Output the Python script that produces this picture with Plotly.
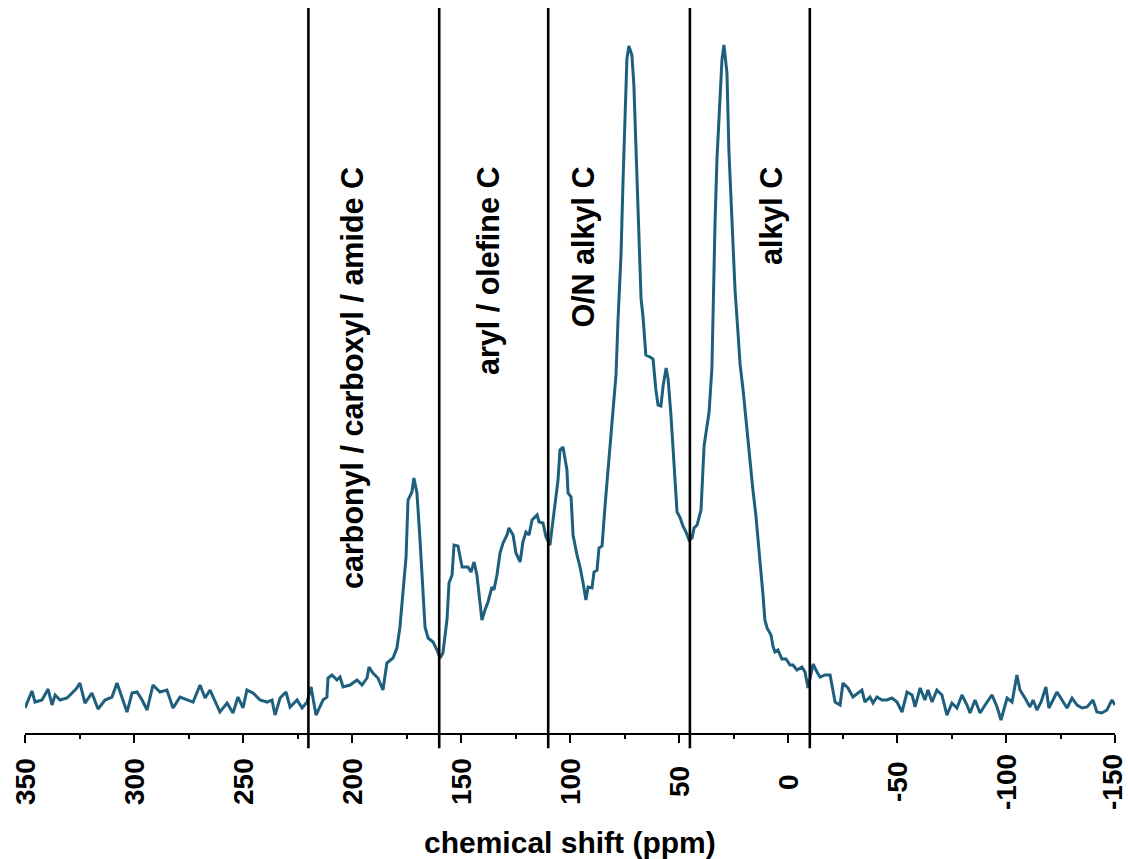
import plotly.graph_objects as go

# chemical shift (ppm) and intensity (a.u., max peak = 100)
ppm = [350.0, 346.8, 345.4, 342.2, 339.4, 337.6, 336.2, 333.9, 330.7, 328.4, 326.6, 324.8, 322.5, 319.3,
       316.5, 313.3, 310.1, 307.8, 305.5, 303.2, 300.9, 298.6, 296.3, 294.0, 291.3, 288.1, 284.9, 282.1,
       278.9, 275.7, 272.9, 269.7, 267.4, 265.1, 262.8, 260.6, 257.3, 254.6, 252.3, 250.0, 248.2, 245.4,
       242.2, 239.0, 236.7, 235.3, 233.0, 230.3, 228.4, 225.2, 222.9, 220.6, 218.8, 216.5, 213.3, 211.5,
       211.0, 209.2, 206.9, 205.5, 204.1, 200.9, 197.7, 195.4, 193.1, 192.2, 190.4, 188.1, 185.8, 184.0,
       181.2, 179.4, 178.0, 176.6, 175.2, 174.3, 172.5, 171.6, 170.2, 168.8, 167.4, 166.5, 165.1, 162.8,
       161.0, 159.6, 158.3, 156.4, 155.5, 154.1, 153.2, 151.4, 149.5, 148.2, 146.8, 145.4, 144.0, 142.7,
       140.4, 139.0, 137.6, 135.8, 134.9, 133.5, 132.1, 130.7, 128.9, 128.0, 126.1, 124.8, 122.9, 121.6,
       120.2, 118.8, 117.4, 115.1, 114.2, 112.4, 111.0, 109.2, 106.9, 105.5, 104.6, 103.2, 101.4, 100.9,
       99.5, 98.6, 96.8, 95.4, 94.0, 92.7, 91.7, 89.9, 89.0, 87.6, 86.7, 85.3, 83.9, 82.6, 81.2, 80.3,
       78.9, 78.0, 76.6, 75.7, 74.8, 73.9, 73.0, 71.6, 70.7, 69.7, 68.8, 67.4, 66.5, 65.2, 63.3, 61.9,
       60.6, 59.6, 58.3, 57.3, 55.9, 55.0, 53.7, 52.3, 50.9, 49.6, 48.2, 46.8, 45.4, 44.0, 43.1, 41.7,
       39.9, 38.5, 37.2, 36.2, 34.9, 34.4, 33.5, 32.6, 31.2, 30.3, 29.4, 28.0, 27.1, 25.7, 24.3, 22.9,
       22.0, 20.6, 19.3, 18.3, 17.4, 16.1, 14.7, 13.8, 12.8, 11.5, 10.6, 9.6, 7.8, 6.9, 6.0, 4.6, 2.8,
       0.9, -0.9, -2.3, -4.1, -6.4, -7.8, -9.2, -11.5, -13.3, -14.7, -17.0, -19.3, -21.6, -23.9, -25.2,
       -27.5, -29.8, -32.1, -33.9, -35.3, -37.6, -39.0, -40.8, -43.1, -45.4, -47.7, -50.0, -52.3, -54.6,
       -56.9, -58.3, -60.6, -62.8, -64.2, -66.1, -68.3, -70.6, -72.9, -75.2, -77.5, -79.8, -82.1, -83.5,
       -85.8, -88.1, -90.4, -93.6, -95.9, -97.7, -100.5, -102.8, -105.0, -106.4, -108.7, -111.0, -112.4,
       -114.2, -116.1, -118.3, -119.7, -121.6, -123.4, -125.7, -128.0, -130.3, -132.6, -134.9, -137.2,
       -139.9, -141.7, -144.0, -146.3, -148.6, -150.0]

intensity = [-0.45, 2.12, 0.45, 0.76, 2.42, 0.0, 1.52, 0.76, 1.06, 1.82, 2.42, 3.33, 0.30, 1.82,
             -0.61, 0.76, 1.21, 3.33, 1.21, -1.06, 1.82, 1.97, 0.76, -0.76, 3.03, 1.97, 2.27, -0.45,
             1.21, 0.76, 0.45, 3.03, 1.06, 2.27, 0.45, -1.06, 0.30, -1.21, 1.21, -0.45, 2.27, 1.82,
             0.76, 0.45, 0.76, -1.52, 1.06, 1.97, -0.30, 0.76, -0.45, 0.45, 2.73, -1.52, 0.76, 1.21,
             4.09, 4.55, 3.79, 4.24, 2.73, 3.03, 3.79, 3.03, 4.09, 5.76, 4.85, 4.09, 2.27, 6.36,
             7.12, 8.64, 11.82, 17.42, 22.42, 31.06, 32.27, 34.39, 32.12, 25.0, 17.42, 11.82, 10.15, 9.55,
             8.33, 7.12, 7.88, 13.0, 18.48, 19.70, 24.24, 24.09, 20.91, 20.91, 20.91, 20.15, 21.67, 19.70,
             12.88, 14.39, 15.61, 17.88, 17.42, 19.70, 23.03, 24.55, 25.76, 26.82, 25.76, 23.03, 21.67, 24.70,
             26.21, 25.76, 28.03, 28.79, 27.73, 27.58, 25.45, 24.24, 30.61, 34.09, 38.64, 39.09, 35.61, 32.12,
             31.52, 25.76, 22.73, 20.91, 18.48, 15.91, 17.88, 17.73, 20.15, 20.45, 23.79, 24.09, 30.30, 35.61,
             41.67, 45.45, 50.0, 58.18, 68.18, 79.09, 90.15, 97.88, 99.85, 98.48, 93.94, 83.48, 74.70, 61.52,
             58.79, 53.03, 52.73, 52.42, 47.73, 45.45, 45.30, 48.33, 51.06, 49.39, 43.94, 36.21, 29.24, 28.48,
             27.12, 26.21, 25.0, 25.3, 26.82, 27.27, 29.55, 39.24, 42.42, 44.39, 51.06, 59.55, 72.73, 82.58,
             92.42, 97.73, 100.0, 95.76, 83.94, 72.73, 62.88, 56.21, 51.67, 47.73, 43.18, 40.15, 36.52, 32.58,
             28.64, 24.70, 21.52, 16.82, 12.88, 11.67, 10.61, 8.94, 8.03, 8.33, 6.97, 6.97, 6.06, 6.06, 5.30,
             5.76, 5.0, 2.58, 6.21, 5.0, 4.24, 4.55, 4.55, 0.45, 0.0, 3.33, 2.58, 1.21, 1.82, 2.27, 0.45,
             1.21, 0.30, 1.21, 0.76, 0.76, 1.06, 0.45, -1.06, 1.97, 1.52, -0.30, 2.58, 0.76, 2.27, 0.45,
             2.27, 1.52, -1.52, 0.30, -0.45, 1.52, 0.0, -1.21, 0.76, -1.21, 0.0, 1.52, -0.30, -2.27, 1.06,
             0.45, 4.55, 2.27, 1.06, -0.30, 0.76, -0.76, 0.45, 2.73, -0.45, 0.76, 1.97, 0.76, -0.45, 1.06,
             0.0, -0.45, -0.30, 0.76, -1.06, -1.21, -0.76, 0.76, 0.0]

region_bounds = [220, 160, 110, 45, -10]
region_labels = ["carbonyl / carboxyl / amide C", "aryl / olefine C", "O/N alkyl C", "alkyl C"]
region_label_ppm = [200.0, 137.6, 94.0, 7.8]

major_ticks = [350, 300, 250, 200, 150, 100, 50, 0, -50, -100, -150]
major_tick_text = ["350", "300", "250", "200", "150", "100", "50", "0", "-50", "-100", "-150"]
minor_ticks = [325, 275, 225, 175, 125, 75, 25, -25, -75, -125]

x_title = "chemical shift (ppm)"

FONT = "Liberation Sans, Arial, Helvetica, sans-serif"
LINE_COLOR = "#1e5f7e"

fig = go.Figure()
fig.add_trace(go.Scatter(x=ppm, y=intensity, mode="lines",
                         line=dict(color=LINE_COLOR, width=3), showlegend=False,
                         hoverinfo="skip"))

for b in region_bounds:
    fig.add_shape(type="line", xref="x", yref="paper", x0=b, x1=b, y0=-0.021, y1=1,
                  line=dict(color="black", width=2.6))

for lab, xp in zip(region_labels, region_label_ppm):
    fig.add_annotation(x=xp, y=0.7834, xref="x", yref="paper", text=lab, textangle=-90,
                       showarrow=False, xanchor="center", yanchor="top",
                       font=dict(family=FONT, size=30.5, color="black", weight="bold"))

for i, (v, t) in enumerate(zip(major_ticks, major_tick_text)):
    fig.add_annotation(x=v, y=-0.0676, xref="x", yref="paper", text=t, textangle=-90,
                       showarrow=False, xanchor="center", yanchor="middle",
                       xshift=(-3 if i == len(major_ticks) - 1 else 0),
                       font=dict(family=FONT, size=28, color="black", weight="bold"))

fig.add_annotation(x=0.5, y=-0.1517, xref="paper", yref="paper", text=x_title,
                   showarrow=False, xanchor="center", yanchor="middle",
                   font=dict(family=FONT, size=30, color="black", weight="bold"))

fig.update_layout(
    width=1128, height=859,
    margin=dict(l=25, r=13, t=8, b=126, pad=0),
    paper_bgcolor="white", plot_bgcolor="white",
    xaxis=dict(range=[350, -150], showgrid=False, zeroline=False, showline=True,
               linecolor="black", linewidth=2, ticks="outside", ticklen=8, tickwidth=2,
               tickcolor="black", tickvals=major_ticks, showticklabels=False,
               minor=dict(tickvals=minor_ticks, ticks="outside", ticklen=4, tickwidth=2,
                          tickcolor="black", showgrid=False)),
    yaxis=dict(range=[-4.24, 105.6], visible=False, showgrid=False, zeroline=False),
)

fig.write_html("out.html", config={"displayModeBar": False},
               post_script="document.body.style.margin='0';document.body.style.overflow='hidden';")
